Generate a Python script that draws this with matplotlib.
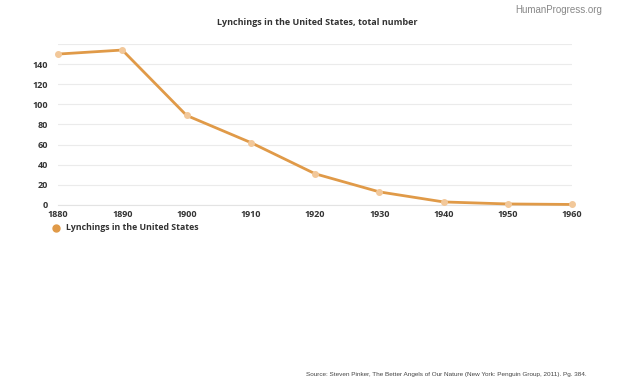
import matplotlib
matplotlib.use("Agg")
import matplotlib.pyplot as plt
import numpy as np

# data
years = [1880, 1890, 1900, 1910, 1920, 1930, 1940, 1950, 1960]
lynchings = [150, 154, 89, 62, 31, 13, 3, 1, 0.5]
yticks = [0, 20, 40, 60, 80, 100, 120, 140]

line_color = "#e09a48"

plt.rcParams['font.family'] = ['Open Sans', 'DejaVu Sans']

fig = plt.figure(figsize=(6.24, 3.86), dpi=100)
ax = fig.add_axes([0.093, 0.469, 0.824, 0.417])

ax.plot(years, lynchings, color=line_color, lw=2, marker="o", ms=4,
        markerfacecolor="#f2c89a", markeredgecolor="#f2c89a", zorder=3,
        clip_on=False)

ax.set_xlim(1880, 1960)
ax.set_ylim(0, 160)
ax.set_xticks(years)
ax.set_yticks(yticks + [160])
ax.set_yticklabels([str(v) for v in yticks] + [""])
ax.grid(axis="y", color="#ebebeb", lw=0.8)
ax.set_axisbelow(True)
for s in ["top", "right", "left"]:
    ax.spines[s].set_visible(False)
ax.spines["bottom"].set_color("#e3e3e3")
ax.tick_params(axis="both", length=0, labelsize=6.5, colors="#333333")
ax.tick_params(axis="x", pad=3.5)
ax.tick_params(axis="y", pad=7)
for lbl in ax.get_xticklabels() + ax.get_yticklabels():
    lbl.set_fontweight("bold")

fig.text(0.508, 0.943, "Lynchings in the United States, total number", ha="center",
         va="center", fontsize=6.5, fontweight="bold", color="#333333")
fig.text(0.965, 0.975, "HumanProgress.org", ha="right", va="center", fontsize=7,
         color="#888888", family=["Liberation Sans", "DejaVu Sans"])

fig.lines.append(plt.Line2D([0.0897], [0.41], marker="o", ms=5, color=line_color,
                            transform=fig.transFigure))
fig.text(0.106, 0.41, "Lynchings in the United States", va="center", fontsize=6.3,
         fontweight="bold", color="#333333")

fig.text(0.94, 0.03, "Source: Steven Pinker, The Better Angels of Our Nature (New York: Penguin Group, 2011). Pg. 384.",
         ha="right", va="center", fontsize=4.6, color="#444444",
         family=["Liberation Sans", "DejaVu Sans"])

fig.savefig("out.png", dpi=100)
